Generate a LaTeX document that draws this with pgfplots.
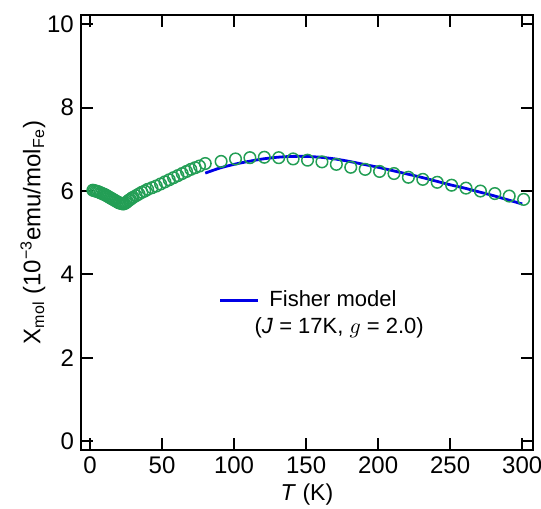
\documentclass[border=0pt]{standalone}
\usepackage{fontspec}
\setmainfont{Liberation Sans}
\usepackage{pgfplots}
\pgfplotsset{compat=1.18}

\definecolor{datagreen}{RGB}{35,158,85}
\definecolor{fitblue}{RGB}{0,0,230}

\pgfplotstableread{
T chi
2 6.02
3 6.01
4 6.00
5 5.99
6 5.98
7 5.96
8 5.95
9 5.93
10 5.92
11 5.90
12 5.88
13 5.86
14 5.84
15 5.82
16 5.80
17 5.78
18 5.76
19 5.74
20 5.72
21 5.71
22 5.70
23 5.69
24 5.70
25 5.72
26 5.75
27 5.78
28 5.80
29 5.83
30 5.85
32 5.89
34 5.93
36 5.97
38 6.00
40 6.04
43 6.08
46 6.12
49 6.17
52 6.22
55 6.27
58 6.32
61 6.37
64 6.42
67 6.47
70 6.52
73 6.56
76 6.60
80 6.66
91 6.71
101 6.77
111 6.80
121 6.81
131 6.80
141 6.77
151 6.74
161 6.70
171 6.64
181 6.57
191 6.52
201 6.47
211 6.42
221 6.33
231 6.28
241 6.21
251 6.14
261 6.07
271 6.00
281 5.94
291 5.88
301 5.80
}\measured

\pgfplotstableread{
T chi
80 6.43
90 6.55
100 6.64
110 6.71
120 6.77
130 6.81
140 6.83
150 6.83
160 6.81
170 6.77
180 6.71
190 6.64
200 6.57
210 6.49
220 6.41
230 6.33
240 6.24
250 6.15
260 6.07
270 5.98
280 5.89
290 5.79
300 5.69
}\fisher

\begin{document}
\begin{tikzpicture}
\begin{axis}[
    scale only axis,
    width=226pt, height=217.5pt,
    xmin=-6.3, xmax=307.5,
    ymin=-0.21, ymax=10.22,
    xtick={0,50,...,300},
    ytick={0,2,...,10},
    tick pos=both,
    tick align=inside,
    major tick length=6pt,
    axis line style={line width=1pt},
    every tick/.style={black, line width=1pt},
    ticklabel style={font=\fontsize{12}{14}\selectfont},
    /pgf/number format/assume math mode=true,
    xlabel={\textit{T} (K)},
    ylabel={Χ\textsubscript{mol} (10\textsuperscript{−3}emu/mol\textsubscript{Fe})},
    xlabel style={font=\fontsize{11.5}{13}\selectfont, yshift=2pt},
    ylabel style={font=\fontsize{12}{14}\selectfont, yshift=-6pt},
    legend style={at={(axis cs:89,3.38)}, anchor=west, draw=none, fill=none,
        inner sep=0pt, font=\fontsize{11}{13}\selectfont,
        nodes={inner xsep=5pt}},
    legend image code/.code={\draw[#1] (0pt,0pt) -- (19pt,0pt);},
    clip=false,
]
\addplot[only marks, mark=o, mark size=2.9pt, datagreen,
    mark options={line width=0.75pt}, forget plot] table[x=T, y=chi] {\measured};
\addplot[fitblue, line width=1.4pt, smooth] table[x=T, y=chi] {\fisher};
\addlegendentry{Fisher model}
\node[anchor=west, font=\fontsize{11}{13}\selectfont, inner sep=0pt]
    at (axis cs:114,2.72) {(\textit{J} = 17K, $g$ = 2.0)};
\coordinate (bl) at (rel axis cs:-0.179,-0.1333);
\coordinate (tr) at (rel axis cs:1.0177,1.0345);
\end{axis}
\pgfresetboundingbox
\useasboundingbox (bl) rectangle (tr);
\end{tikzpicture}
\end{document}
